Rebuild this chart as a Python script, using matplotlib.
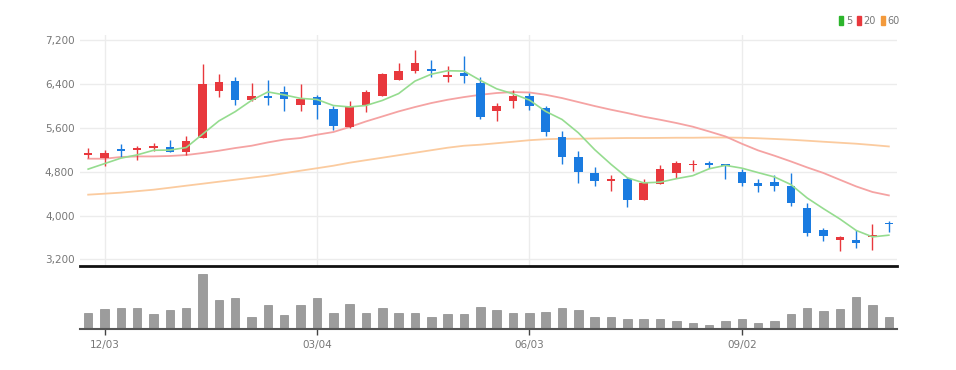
import matplotlib
matplotlib.use("Agg")
import matplotlib.pyplot as plt
from matplotlib.patches import Patch
from matplotlib.ticker import FuncFormatter
import numpy as np
import pandas as pd

# weekly candles
dates = pd.date_range("2018-11-26", periods=50, freq="7D")
opens = [5100, 5060, 5210, 5190, 5230, 5260, 5155, 5420, 6270, 6460,
         6120, 6180, 6250, 6020, 6160, 5950, 5620, 6020, 6190, 6470,
         6650, 6680, 6530, 6600, 6430, 5920, 6100, 6190, 5965, 5435,
         5080, 4780, 4640, 4670, 4280, 4580, 4780, 4920, 4970, 4935,
         4805, 4605, 4615, 4545, 4140, 3745, 3560, 3560, 3615, 3865]
highs = [5230, 5200, 5300, 5280, 5320, 5390, 5450, 6770, 6590, 6540,
         6430, 6480, 6360, 6400, 6210, 6010, 6090, 6290, 6600, 6790,
         7030, 6850, 6740, 6910, 6530, 6060, 6300, 6240, 5995, 5540,
         5190, 4890, 4735, 4715, 4675, 4930, 5000, 5020, 5000, 4940,
         4850, 4670, 4750, 4780, 4230, 3775, 3625, 3730, 3855, 3910]
lows = [5060, 4900, 5080, 5020, 5190, 5160, 5100, 5420, 6170, 6030,
        6090, 6030, 5920, 5920, 5770, 5560, 5600, 5900, 6190, 6470,
        6600, 6540, 6450, 6420, 5765, 5720, 5970, 5935, 5460, 4945,
        4600, 4535, 4455, 4150, 4278, 4578, 4680, 4810, 4870, 4670,
        4545, 4425, 4445, 4170, 3620, 3530, 3350, 3410, 3380, 3710]
closes = [5140, 5140, 5180, 5240, 5270, 5160, 5370, 6400, 6450, 6120,
          6190, 6140, 6130, 6130, 6020, 5640, 6010, 6260, 6590, 6650,
          6780, 6640, 6575, 6560, 5800, 6010, 6180, 6010, 5520, 5065,
          4790, 4640, 4670, 4290, 4605, 4850, 4960, 4945, 4920, 4915,
          4600, 4550, 4550, 4230, 3685, 3620, 3615, 3500, 3640, 3840]
ma5 = [4850, 4950, 5050, 5110, 5194, 5198, 5244, 5488, 5730, 5900,
       6106, 6260, 6206, 6142, 6122, 6012, 5986, 6012, 6104, 6230,
       6458, 6584, 6647, 6641, 6471, 6317, 6225, 6112, 5904, 5757,
       5513, 5205, 4937, 4691, 4599, 4611, 4675, 4730, 4856, 4918,
       4868, 4786, 4707, 4569, 4323, 4127, 3940, 3730, 3612, 3643]
ma20 = [5040, 5040, 5071, 5082, 5082, 5090, 5107, 5144, 5186, 5235,
        5277, 5338, 5390, 5418, 5478, 5527, 5619, 5721, 5812, 5904,
        5984, 6057, 6117, 6166, 6208, 6240, 6258, 6250, 6208, 6148,
        6075, 6002, 5935, 5874, 5807, 5752, 5692, 5625, 5538, 5447,
        5314, 5192, 5095, 4991, 4881, 4779, 4656, 4534, 4432, 4370]
ma60 = [4383, 4401, 4420, 4447, 4474, 4510, 4547, 4583, 4620, 4656,
        4693, 4729, 4775, 4821, 4866, 4912, 4967, 5013, 5058, 5104,
        5149, 5195, 5241, 5277, 5296, 5323, 5350, 5378, 5396, 5405,
        5405, 5410, 5414, 5418, 5418, 5420, 5423, 5423, 5427, 5427,
        5423, 5414, 5401, 5387, 5369, 5350, 5332, 5314, 5290, 5264]
# volume, thousand shares
volumes = [163, 197, 207, 207, 147, 190, 213, 550, 290, 313,
           123, 240, 140, 240, 313, 157, 247, 163, 207, 157,
           163, 123, 147, 147, 223, 190, 157, 163, 173, 213,
           190, 123, 123, 103, 103, 103, 77, 60, 43, 77,
           103, 60, 77, 147, 207, 177, 197, 323, 240, 123]
tick_idx = [1, 14, 27, 40]

RED = "#e8383d"
BLUE = "#1a7be0"
GRID = "#ececec"
TXT = "#777777"
FONT = ["Liberation Sans Narrow", "DejaVu Sans"]
plt.rcParams["font.family"] = FONT

W, H = 956, 370
fig = plt.figure(figsize=(W / 100, H / 100), dpi=100)
ax = fig.add_axes([80 / W, 1 - 266 / H, 817 / W, 231 / H])
axv = fig.add_axes([80 / W, 1 - 329 / H, 817 / W, 59 / H], sharex=ax)

x = np.arange(len(closes))
o = np.array(opens)
c = np.array(closes)
colors = [RED if cc >= oo else BLUE for oo, cc in zip(o, c)]

# grid
for p in range(3200, 7201, 800):
    ax.axhline(p, color=GRID, lw=1, zorder=0)
for i in tick_idx:
    ax.axvline(i, color=GRID, lw=1, zorder=0)

# moving averages
ax.plot(x, ma60, color="#fbcb9f", lw=1.3, zorder=1)
ax.plot(x, ma20, color="#f5a3a3", lw=1.3, zorder=1)
ax.plot(x, ma5, color="#95dc8f", lw=1.2, zorder=3)

# candles
ax.vlines(x, lows, highs, colors=colors, lw=1, zorder=2)
body_lo = np.minimum(o, c)
body_h = np.maximum(np.abs(c - o), 18)
ax.bar(x, body_h, bottom=body_lo, width=0.52, color=colors, zorder=2)

ax.set_xlim(-0.5, 49.5)
ax.set_ylim(3080, 7300)
ax.set_yticks(range(3200, 7201, 800))
ax.yaxis.set_major_formatter(FuncFormatter(lambda v, _: f"{int(v):,}"))
ax.tick_params(axis="y", length=0, pad=4, labelsize=7.5, labelcolor=TXT)
ax.tick_params(axis="x", length=0, labelbottom=False)
for s in ["top", "right", "left"]:
    ax.spines[s].set_visible(False)
ax.spines["bottom"].set_color("#111111")
ax.spines["bottom"].set_linewidth(2)

# volume
axv.bar(x, volumes, width=0.52, color="#9c9c9c", edgecolor="#8a8a8a", lw=0.5)
axv.set_ylim(0, 590)
axv.set_yticks([])
axv.set_xticks(tick_idx)
axv.set_xticklabels([dates[i].strftime("%m/%d") for i in tick_idx])
axv.tick_params(axis="x", length=4, width=1, color="#444444", pad=4,
                labelsize=7.5, labelcolor=TXT)
for s in ["top", "right", "left"]:
    axv.spines[s].set_visible(False)
axv.spines["bottom"].set_color("#555555")
axv.spines["bottom"].set_linewidth(1.5)

# legend
handles = [Patch(color="#2cb52c", label="5"),
           Patch(color="#e8383d", label="20"),
           Patch(color="#f39a3c", label="60")]
fig.legend(handles=handles, loc="upper right", ncol=3, frameon=False,
           bbox_to_anchor=(900 / W, 1 - 16 / H), fontsize=7,
           handlelength=0.45, handleheight=1.0, handletextpad=0.25,
           columnspacing=0.5, labelcolor=TXT, borderpad=0, borderaxespad=0)

fig.savefig("out.png", dpi=100, facecolor="white")
